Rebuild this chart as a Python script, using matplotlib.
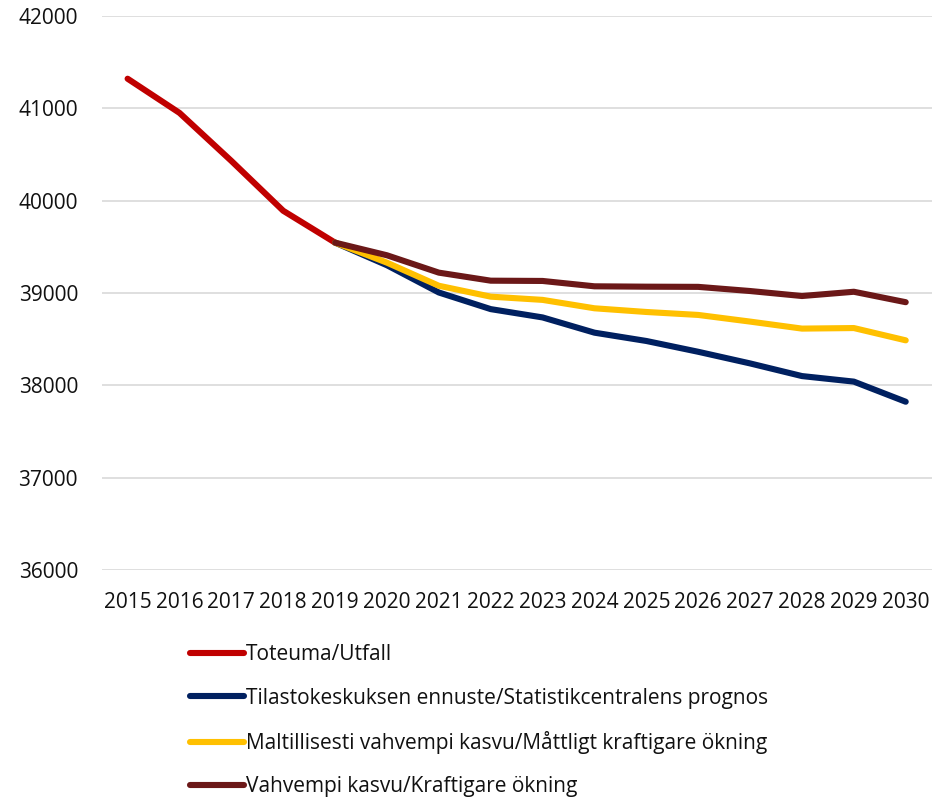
import numpy as np
import matplotlib.pyplot as plt

years = [str(y) for y in range(2015, 2031)]

# observed 2015-2019
toteuma = [41320, 40950, 40430, 39890, 39545]
# forecasts 2019-2030
tilasto = [39545, 39300, 39005, 38825, 38735, 38570, 38480, 38363, 38237, 38100, 38040, 37822]
maltill = [39545, 39328, 39078, 38960, 38925, 38834, 38794, 38762, 38690, 38614, 38620, 38487]
vahvempi = [39545, 39408, 39220, 39133, 39130, 39072, 39068, 39066, 39021, 38967, 39013, 38900]

labels = ["Toteuma/Utfall",
          "Tilastokeskuksen ennuste/Statistikcentralens prognos",
          "Maltillisesti vahvempi kasvu/Måttligt kraftigare ökning",
          "Vahvempi kasvu/Kraftigare ökning"]
colors = ["#C00000", "#002060", "#FFC000", "#6B1818"]

plt.rcParams['font.family'] = ['Open Sans', 'DejaVu Sans']
fs = 15

fig = plt.figure(figsize=(9.37, 8), dpi=100)
ax = fig.add_axes([0.1085, 0.2875, 0.8858, 0.6926])

x = np.arange(len(years))
kw = dict(lw=4.4, solid_capstyle='round', solid_joinstyle='round')
ax.plot(x[:5], toteuma, color=colors[0], label=labels[0], **kw)
ax.plot(x[4:], tilasto, color=colors[1], label=labels[1], **kw)
ax.plot(x[4:], maltill, color=colors[2], label=labels[2], **kw)
ax.plot(x[4:], vahvempi, color=colors[3], label=labels[3], **kw)

ax.set_xlim(-0.5, len(years) - 0.5)
ax.set_ylim(36000, 42000)
ax.set_yticks(range(36000, 42001, 1000))
ax.set_xticks(x)
ax.set_xticklabels(years)
ax.grid(axis='y', color='#D9D9D9', lw=1.2)
ax.set_axisbelow(True)
for s in ax.spines.values():
    s.set_visible(False)
ax.tick_params(axis='y', length=0, pad=17, labelsize=fs, colors='#111111')
ax.tick_params(axis='x', length=0, pad=16, labelsize=fs, colors='#111111')

leg = fig.legend(loc='upper left', bbox_to_anchor=(0.2028, 0.1945), frameon=False,
                 fontsize=fs, handlelength=2.6, handletextpad=0.1,
                 labelspacing=1.07, borderpad=0, borderaxespad=0)
for t in leg.get_texts():
    t.set_color('#111111')

fig.savefig('out.png', dpi=100)
